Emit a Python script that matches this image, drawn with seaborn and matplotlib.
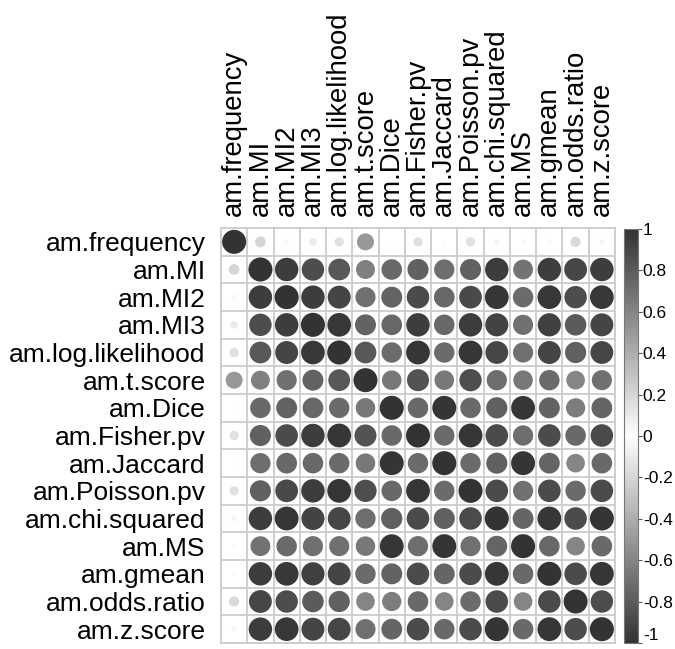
import numpy as np
import pandas as pd
import seaborn as sns
import matplotlib
matplotlib.use('Agg')
import matplotlib.pyplot as plt
from matplotlib.colors import LinearSegmentedColormap, Normalize

labels = ['am.frequency', 'am.MI', 'am.MI2', 'am.MI3', 'am.log.likelihood',
          'am.t.score', 'am.Dice', 'am.Fisher.pv', 'am.Jaccard', 'am.Poisson.pv',
          'am.chi.squared', 'am.MS', 'am.gmean', 'am.odds.ratio', 'am.z.score']

# upper triangle of the correlation matrix, row i holds columns i+1 .. 14
upper = [
    [0.20, 0.04, 0.10, 0.15, 0.50, 0.02, 0.15, 0.02, 0.15, 0.05, 0.03, 0.03, 0.18, 0.05],
    [0.95, 0.87, 0.82, 0.62, 0.73, 0.77, 0.71, 0.77, 0.95, 0.68, 0.95, 0.90, 0.95],
    [0.95, 0.91, 0.70, 0.76, 0.88, 0.74, 0.89, 0.98, 0.72, 0.97, 0.87, 0.97],
    [0.97, 0.76, 0.74, 0.95, 0.73, 0.95, 0.92, 0.70, 0.93, 0.80, 0.91],
    [0.82, 0.72, 0.98, 0.72, 0.98, 0.90, 0.70, 0.91, 0.78, 0.90],
    [0.66, 0.84, 0.66, 0.86, 0.71, 0.66, 0.72, 0.60, 0.70],
    [0.73, 0.99, 0.73, 0.78, 0.98, 0.76, 0.64, 0.75],
    [0.72, 0.98, 0.88, 0.71, 0.88, 0.73, 0.88],
    [0.72, 0.77, 0.99, 0.75, 0.60, 0.73],
    [0.88, 0.70, 0.88, 0.72, 0.88],
    [0.75, 0.98, 0.88, 0.99],
    [0.73, 0.60, 0.73],
    [0.88, 0.98],
    [0.87],
]

n = len(labels)
corr = np.eye(n)
for i, row in enumerate(upper):
    for k, v in enumerate(row):
        corr[i, i + 1 + k] = v
        corr[i + 1 + k, i] = v

df = pd.DataFrame(corr, index=labels, columns=labels)
long = df.stack().reset_index()
long.columns = ['row', 'col', 'r']
long['x'] = long['col'].map({l: i for i, l in enumerate(labels)})
long['y'] = long['row'].map({l: i for i, l in enumerate(labels)})
long['size'] = long['r'].abs()

plt.rcParams['font.family'] = ['Liberation Sans', 'DejaVu Sans']
cmap = LinearSegmentedColormap.from_list('grey2', ['#333333', '#ffffff', '#333333'])

fig = plt.figure(figsize=(6.75, 6.49), dpi=100)
ax = fig.add_axes([221 / 675, 1 - 643 / 649, 394 / 675, 415 / 649])

sns.scatterplot(data=long, x='x', y='y', hue='r', palette=cmap, hue_norm=(-1, 1),
                size='size', sizes=(0, 300), size_norm=(0, 1),
                linewidth=0, legend=False, ax=ax, zorder=3)

ax.set_xlim(-0.5, n - 0.5)
ax.set_ylim(n - 0.5, -0.5)
ax.set_xticks(np.arange(n) + 0.5, minor=True)
ax.set_yticks(np.arange(n) + 0.5, minor=True)
ax.grid(which='minor', color='#cccccc', linewidth=1.3)
ax.tick_params(which='minor', length=0)
for s in ax.spines.values():
    s.set_color('#cccccc')
    s.set_linewidth(1.3)

ax.set_xticks(range(n))
ax.set_xticklabels(labels, rotation=90, fontsize=19.8)
ax.xaxis.tick_top()
ax.set_yticks(range(n))
ax.set_yticklabels(labels, fontsize=19)
ax.tick_params(which='major', length=0)
ax.tick_params(axis='x', pad=9)
ax.tick_params(axis='y', pad=11)
ax.set_xlabel('')
ax.set_ylabel('')

cax = fig.add_axes([624 / 675, 1 - 643 / 649, 14 / 675, 414 / 649])
sm = plt.cm.ScalarMappable(norm=Normalize(-1, 1), cmap=cmap)
cb = fig.colorbar(sm, cax=cax)
ticks = [1, 0.8, 0.6, 0.4, 0.2, 0, -0.2, -0.4, -0.6, -0.8, -1]
cb.set_ticks(ticks)
cb.set_ticklabels(['1', '0.8', '0.6', '0.4', '0.2', '0', '-0.2', '-0.4', '-0.6', '-0.8', '-1'])
cb.ax.tick_params(labelsize=12.5, length=3, width=0.8, pad=0.5, color='#555555')
cb.ax.get_yticklabels()[-1].set_va('bottom')
cb.outline.set_edgecolor('#777777')
cb.outline.set_linewidth(0.8)

fig.savefig('out.png', dpi=100)
